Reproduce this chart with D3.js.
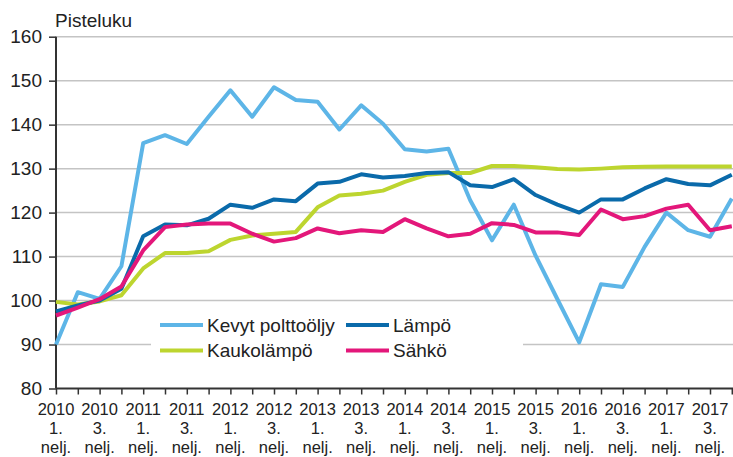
<!DOCTYPE html>
<html><head><meta charset="utf-8">
<script src="https://cdn.jsdelivr.net/npm/d3@7"></script>
<style>body{margin:0;background:#fff}svg{display:block;font-family:"Liberation Sans",Arial,sans-serif}</style>
</head><body><svg id="c" width="733" height="457"></svg>
<script>
const years = ["2010","2010","2011","2011","2012","2012","2013","2013","2014","2014","2015","2015","2016","2016","2017","2017"];
const quarterLabels = ["1.","3."];
const yTicks = [80,90,100,110,120,130,140,150,160];
const seriesNames = ["Kevyt polttoöljy","Lämpö","Kaukolämpö","Sähkö"];
const seriesColors = ["#5db5e7","#0a6aaa","#bdd52f","#e3177a"];
const kevyt = [90,101.9,100.4,107.8,135.8,137.6,135.6,141.8,147.8,141.8,148.5,145.6,145.2,138.9,144.4,140.2,134.4,133.9,134.5,122.8,113.7,121.8,110.2,100.3,90.5,103.7,103.1,112.2,120,116,114.5,123.2];
const lampo = [97.5,98.9,100,102.7,114.6,117.3,117.1,118.6,121.8,121.1,123,122.6,126.6,127,128.7,128,128.3,129,129.2,126.2,125.8,127.6,124,121.8,120,123,123,125.5,127.6,126.5,126.2,128.6];
const kauko = [99.7,99.1,99.8,101.2,107.3,110.8,110.8,111.2,113.8,114.8,115.2,115.6,121.2,123.9,124.3,125,127,128.6,129,129,130.6,130.6,130.3,129.9,129.8,130,130.3,130.4,130.5,130.5,130.5,130.5];
const sahko = [96.6,98.4,100.3,103.2,111.4,116.7,117.3,117.5,117.5,115.2,113.4,114.2,116.4,115.3,116,115.6,118.5,116.4,114.6,115.2,117.6,117.2,115.5,115.5,114.9,120.7,118.5,119.2,120.9,121.8,116,116.9];
const seriesData = [kevyt, lampo, kauko, sahko];

const svg = d3.select("#c");
const L = 56, R = 731.8, T = 36.7, B = 388.5;
const n = kevyt.length;
const x = d3.scaleLinear().domain([0, n-1]).range([L, R]);
const y = d3.scaleLinear().domain([80,160]).range([B, T]);
const txt = "#222";

// gridlines
const grid = svg.append("g");
yTicks.filter(v => v > 80).forEach(v => {
  grid.append("line").attr("x1", L).attr("x2", 733).attr("y1", y(v)).attr("y2", y(v))
    .attr("stroke", "#c4c4c4").attr("stroke-width", 1.5);
});

// legend background
svg.append("rect").attr("x", 151).attr("y", 306).attr("width", 372).attr("height", 66).attr("fill", "#fff");

// axes
const yAxis = svg.append("g").attr("transform", `translate(${L},0)`)
  .call(d3.axisLeft(y).tickValues(yTicks).tickSize(7).tickPadding(7).tickFormat(d3.format("d")));
yAxis.select(".domain").attr("stroke", "#333").attr("stroke-width", 2).attr("d", `M0,${T}V${B}`);
yAxis.selectAll(".tick line").attr("stroke", "#333").attr("stroke-width", 1.5);
yAxis.selectAll(".tick text").attr("font-size", 19).attr("fill", txt).attr("font-family", "Liberation Sans, Arial, sans-serif");

const xAxis = svg.append("g").attr("transform", `translate(0,${B})`)
  .call(d3.axisBottom(x).tickValues(d3.range(n)).tickSize(6).tickFormat(""));
xAxis.select(".domain").attr("stroke", "#333").attr("stroke-width", 2).attr("d", `M${L},0H733`);
xAxis.selectAll(".tick line").attr("stroke", "#333").attr("stroke-width", 1.5);

// x labels
years.forEach((yr, i) => {
  const g = svg.append("text").attr("x", x(i*2)).attr("text-anchor", "middle")
    .attr("font-size", 16.5).attr("fill", txt);
  g.append("tspan").attr("x", x(i*2)).attr("y", 415).text(yr);
  g.append("tspan").attr("x", x(i*2)).attr("y", 434).text(quarterLabels[i % 2]);
  g.append("tspan").attr("x", x(i*2)).attr("y", 453).text("nelj.");
});

// title
svg.append("text").attr("x", 55).attr("y", 27).attr("font-size", 19).attr("fill", txt).text("Pisteluku");

// lines (drawing order)
const line = d3.line().x((d, i) => x(i)).y(d => y(d));
[0, 2, 1, 3].forEach(s => {
  svg.append("path").datum(seriesData[s]).attr("d", line).attr("fill", "none")
    .attr("stroke", seriesColors[s]).attr("stroke-width", 4).attr("stroke-linejoin", "round");
});

// legend
const legPos = [[160, 325], [346, 325], [160, 350.5], [346, 350.5]];
seriesNames.forEach((name, i) => {
  const [lx, ly] = legPos[i];
  svg.append("line").attr("x1", lx).attr("x2", lx + 43).attr("y1", ly).attr("y2", ly)
    .attr("stroke", seriesColors[i]).attr("stroke-width", 4);
  svg.append("text").attr("x", lx + 47).attr("y", ly + 6.8).attr("font-size", 19).attr("fill", txt).text(name);
});
</script></body></html>
